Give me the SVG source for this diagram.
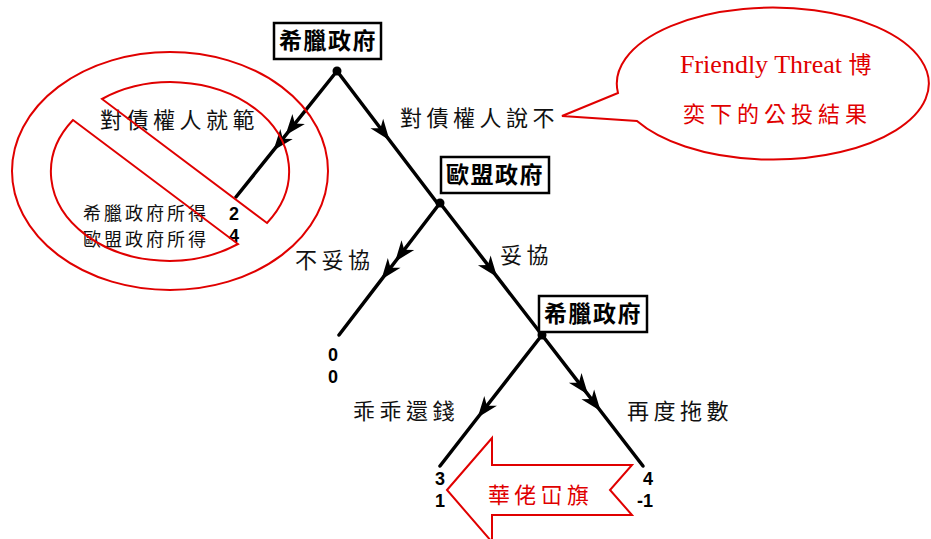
<svg xmlns="http://www.w3.org/2000/svg" width="931" height="539" viewBox="0 0 931 539">
<style>
.edge{fill:none;stroke:#000;stroke-width:3.5;stroke-linecap:round;marker-mid:url(#ah)}
.box{fill:#fff;stroke:#000;stroke-width:2.5}
.nt{font-family:"Noto Sans CJK TC","Noto Sans CJK SC",sans-serif;font-weight:bold;font-size:23px;letter-spacing:1.5px;text-anchor:middle;fill:#000}
.lbl{font-family:"Noto Sans CJK TC","Noto Sans CJK SC",sans-serif;font-size:22px;letter-spacing:4.5px;fill:#111}
.sm{font-family:"Noto Sans CJK TC","Noto Sans CJK SC",sans-serif;font-size:18px;letter-spacing:3px;fill:#111}
.num{font-family:"Liberation Sans",Arial,sans-serif;font-weight:bold;font-size:18px;text-anchor:middle;fill:#000}
.red{fill:none;stroke:#e00000;stroke-width:2}
.rt{fill:#e00000}
.dot{fill:#000}
</style>
<defs>
<marker id="ah" markerUnits="userSpaceOnUse" viewBox="-22 -10 24 20" refX="0" refY="0" markerWidth="24" markerHeight="20" orient="auto">
<path d="M0,0 L-21,-8 L-15,0 L-21,8 Z" fill="#000"/>
</marker>
</defs>
<rect width="931" height="539" fill="#fff"/>

<g id="connectors">
<path class="edge" d="M337,71 L285.5,135.3 L273.4,150.4 L236,197"/>
<path class="edge" d="M337,71 L389.5,140.2 L438,204"/>
<path class="edge" d="M440,203 L395.1,261.7 L381.4,279.6 L339,335"/>
<path class="edge" d="M440,203 L497.1,276.9 L542,335"/>
<path class="edge" d="M542,335 L477.7,417.5 L440,466"/>
<path class="edge" d="M542,335 L588,394.6 L600.6,411 L643,466"/>
<circle class="dot" cx="337" cy="71" r="4.5"/>
<circle class="dot" cx="440" cy="203" r="4.5"/>
<circle class="dot" cx="542" cy="335" r="4.5"/>
</g>

<g id="node-greece-root">
<rect class="box" x="274" y="23" width="107" height="36"/>
<text class="nt" x="328" y="49">希臘政府</text>
</g>
<g id="node-eu">
<rect class="box" x="441" y="157" width="108" height="36"/>
<text class="nt" x="495" y="183">歐盟政府</text>
</g>
<g id="node-greece-2">
<rect class="box" x="539" y="296" width="108" height="36"/>
<text class="nt" x="593" y="322">希臘政府</text>
</g>

<g id="edge-labels">
<text class="lbl" x="100" y="128">對債權人就範</text>
<text class="lbl" x="400" y="126">對債權人說不</text>
<text class="lbl" x="295" y="268">不妥協</text>
<text class="lbl" x="500" y="263">妥協</text>
<text class="lbl" x="353" y="419">乖乖還錢</text>
<text class="lbl" x="627" y="419">再度拖數</text>
</g>

<g id="leaf-payoffs">
<text class="sm" x="83" y="220">希臘政府所得</text>
<text class="sm" x="83" y="246">歐盟政府所得</text>
<text class="num" x="234" y="220">2</text>
<text class="num" x="234" y="242">4</text>
<text class="num" x="333" y="361">0</text>
<text class="num" x="333" y="383">0</text>
<text class="num" x="440" y="485">3</text>
<text class="num" x="440" y="507">1</text>
<text class="num" x="648" y="485">4</text>
<text class="num" x="645" y="507">-1</text>
</g>

<g id="prohibition-sign">
<ellipse class="red" cx="170" cy="171" rx="158" ry="119"/>
<path class="red" d="M102,99 A118,89 0 0 1 267,223 Z"/>
<path class="red" d="M238,244 A118,89 0 0 1 73,120 Z"/>
</g>

<g id="speech-bubble">
<path class="red" d="M618,93 L562,116 L637,121 A156,76 0 1 0 618,93 Z"/>
<text class="rt" x="680" y="73" font-family="'Liberation Serif','Noto Sans CJK TC',serif" font-size="26">Friendly Threat <tspan font-family="'Noto Sans CJK TC',serif" font-size="23">博</tspan></text>
<text class="rt" x="683" y="122" font-family="'Noto Sans CJK TC','Noto Sans CJK SC',sans-serif" font-size="22" letter-spacing="5">奕下的公投結果</text>
</g>

<g id="big-arrow">
<path class="red" d="M447,490 L492,438 L492,465 L632,465 L610,490 L632,515 L492,515 L492,542 Z"/>
<text class="rt" x="488" y="503" font-family="'Noto Sans CJK TC','Noto Sans CJK SC',sans-serif" font-size="22" letter-spacing="4.3">華佬冚旗</text>
</g>
</svg>
